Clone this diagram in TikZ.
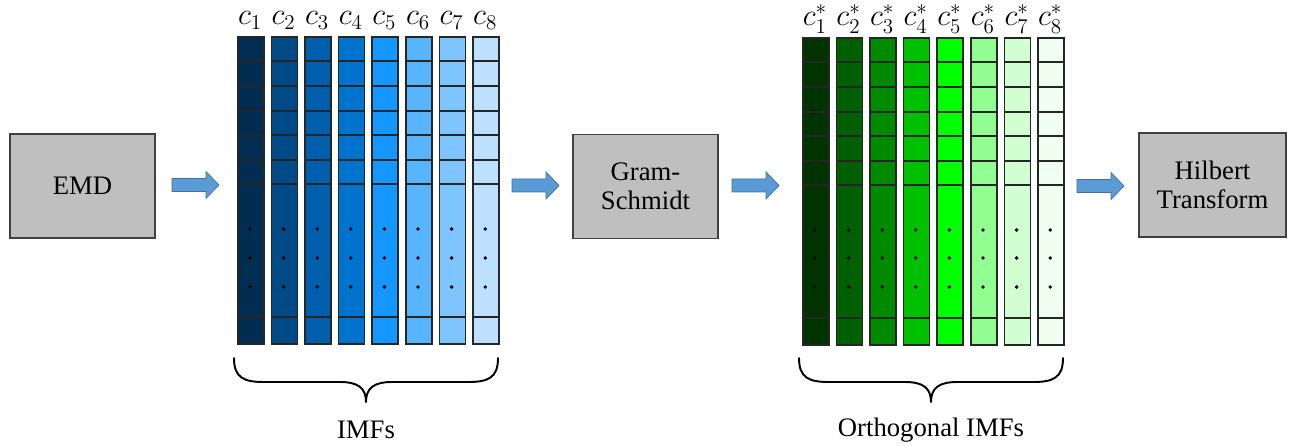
\documentclass[tikz,border=0pt]{standalone}
\usepackage{fontspec}
\setmainfont{Liberation Serif}
\usetikzlibrary{calc}

% process boxes and block arrows
\definecolor{boxgray}{HTML}{BFBFBF}
\definecolor{boxedge}{HTML}{404040}
\definecolor{arrowblue}{HTML}{5B9BD5}
\definecolor{arrowedge}{HTML}{41719C}
% IMF column shades
\definecolor{b1}{HTML}{002D51}
\definecolor{b2}{HTML}{004B87}
\definecolor{b3}{HTML}{005FAD}
\definecolor{b4}{HTML}{0073CC}
\definecolor{b5}{HTML}{1497FF}
\definecolor{b6}{HTML}{58B4FF}
\definecolor{b7}{HTML}{7EC4FF}
\definecolor{b8}{HTML}{BDE0FF}
% orthogonal IMF column shades
\definecolor{g1}{HTML}{003300}
\definecolor{g2}{HTML}{005F00}
\definecolor{g3}{HTML}{008A00}
\definecolor{g4}{HTML}{00C000}
\definecolor{g5}{HTML}{00FF00}
\definecolor{g6}{HTML}{92FF92}
\definecolor{g7}{HTML}{D2FFD2}
\definecolor{g8}{HTML}{F0FFF0}

\begin{document}
\begin{tikzpicture}[x=0.02cm,y=-0.02cm,
  procbox/.style={draw=boxedge, fill=boxgray, line width=0.8pt,
    minimum width=2.9cm, minimum height=2.08cm, inner sep=0pt,
    align=center, font=\fontsize{15.2}{16.6}\selectfont},
  imfcol/.style={draw=black!85, line width=0.9pt, minimum width=0.52cm,
    minimum height=6.14cm, inner sep=0pt, anchor=north west},
  gridline/.style={draw=black!85, line width=0.8pt},
  collabel/.style={font=\LARGE, inner sep=0pt, anchor=base},
  grouplabel/.style={font=\fontsize{15.2}{17}\selectfont, inner sep=0pt},
  bracepath/.style={line width=1.1pt, line cap=round, line join=round},
  blockarrow/.pic={
    \filldraw[fill=arrowblue, draw=arrowedge, line width=0.4pt]
      (0,-6.5) -- (34,-6.5) -- (34,-13.5) -- (47,0) -- (34,13.5)
      -- (34,6.5) -- (0,6.5) -- cycle;}
]
\useasboundingbox (0,0) rectangle (1289,446);

% processing steps
\node[procbox] (emd) at (82.5,186) {EMD};
\node[procbox] (gs) at (645.5,186.5) {Gram-\\Schmidt};
\node[procbox, minimum width=2.94cm] (hilbert) at (1212.5,185) {Hilbert\\Transform};

% flow arrows
\pic at (172,185) {blockarrow};
\pic at (512,185.5) {blockarrow};
\pic at (732,185.5) {blockarrow};
\pic at (1077,186) {blockarrow};

% IMF columns
\foreach \i in {1,...,8} {
  \pgfmathsetmacro\xl{237+33.6*(\i-1)}
  \node[imfcol, fill=b\i] (imf\i) at (\xl,36) {};
  \foreach \yy in {61,86,111,135,160,184,317}
    \draw[gridline] (\xl,\yy) -- ++(26,0);
  \foreach \yy in {229,258,287}
    \fill (\xl+13,\yy) circle (1.1pt);
  \node[collabel] (imflab\i) at (\xl+13,25) {$c_{\i}$};
}

% orthogonal IMF columns
\foreach \i in {1,...,8} {
  \pgfmathsetmacro\xl{802+33.6*(\i-1)}
  \node[imfcol, fill=g\i] (oimf\i) at (\xl,37) {};
  \foreach \yy in {62,87,112,136,161,185,318}
    \draw[gridline] (\xl,\yy) -- ++(26,0);
  \foreach \yy in {230,258,287}
    \fill (\xl+13,\yy) circle (1.1pt);
  \node[collabel] (oimflab\i) at (\xl+13,26) {$c_{\i}^{*}$};
}

% braces under the column groups
\draw[bracepath] (234,358) .. controls (234,378) and (244,382) .. (264,382)
  -- (340,382) .. controls (358,382) and (366,388) .. (366,402)
  .. controls (366,388) and (374,382) .. (392,382)
  -- (468,382) .. controls (488,382) and (498,378) .. (498,358);
\draw[bracepath] (799,358) .. controls (799,378) and (809,382) .. (829,382)
  -- (905,382) .. controls (923,382) and (931,388) .. (931,402)
  .. controls (931,388) and (939,382) .. (957,382)
  -- (1033,382) .. controls (1053,382) and (1063,378) .. (1063,358);

\node[grouplabel] (imfs) at (366,430) {IMFs};
\node[grouplabel] (oimfs) at (931,430) {Orthogonal IMFs};
\end{tikzpicture}
\end{document}
